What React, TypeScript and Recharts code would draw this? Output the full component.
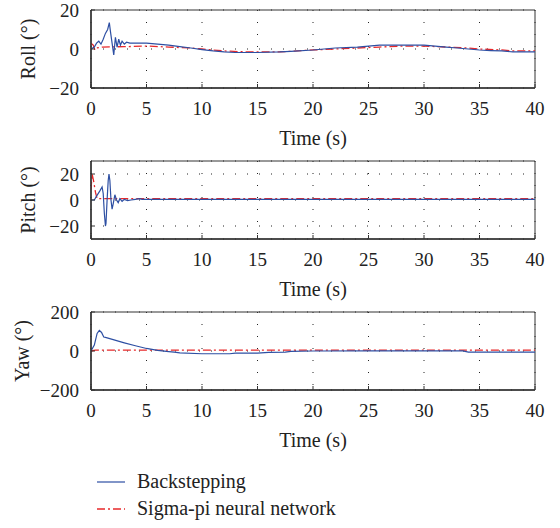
import { LineChart, Line, XAxis, YAxis, CartesianGrid, ReferenceArea } from 'recharts'

const FONT = "'Liberation Serif', 'Times New Roman', serif"
const BLUE = '#2d4fa3'
const RED = '#e8282a'
const INK = '#222'

const timeTicks = [0, 5, 10, 15, 20, 25, 30, 35, 40]

// Roll (deg)
const rollBackT = [0, 0.3, 0.5, 0.7, 0.9, 1.1, 1.3, 1.5, 1.65, 1.75, 1.9, 2.05, 2.2, 2.35, 2.5, 2.65, 2.8, 3.0, 3.2, 3.5, 4, 5, 6, 7, 8, 9, 10, 11, 12, 13, 15, 17, 18, 20, 22, 24, 25, 26, 28, 30, 31, 32, 33, 35, 36, 37, 38, 40]
const rollBackV = [0, 1, 3, 4, 2.5, 5, 8, 10, 13.5, 9, 3, -3, 6, 1, 5, 2, 4, 2.5, 3.5, 3, 3, 3, 2.5, 2, 1.2, 0.5, -0.3, -1, -1.5, -1.8, -1.8, -1.5, -1.2, -0.5, 0.5, 1, 1.5, 2, 2, 2, 1.5, 1, 0.5, -0.5, -0.8, -1, -1.5, -1.5]
const rollSigmaT = [0, 0.2, 0.35, 0.5, 1, 3, 5, 7, 9, 10, 12, 14, 17, 20, 22, 24, 26, 28, 30, 32, 34, 35, 37, 38, 40]
const rollSigmaV = [3, 2, -0.5, 0.5, 1, 1.2, 1.5, 1, 0.5, 0, -1, -1.5, -1.5, -0.5, 0, 0.5, 1, 1.5, 1.5, 1, 0.5, 0, -0.5, -1, -1]

// Pitch (deg)
const pitchBackT = [0, 0.3, 0.5, 0.8, 1.0, 1.1, 1.2, 1.3, 1.35, 1.45, 1.55, 1.62, 1.7, 1.8, 1.9, 2.0, 2.15, 2.3, 2.45, 2.6, 2.8, 3.0, 3.3, 3.6, 4, 4.4, 4.6, 5, 40]
const pitchBackV = [0, 0, 3, 7, 10, 5, -10, -20, -18, 0, 15, 20, 15, 0, -7, -3, 4, 0, -2, 1, -1, 0.5, -0.5, 0, 0.5, 1, 0.5, 0.5, 0.5]
const pitchSigmaT = [0, 0.1, 0.25, 0.4, 0.55, 40]
const pitchSigmaV = [8, 20, 14, 6, 1, 1]

// Yaw (deg)
const yawBackT = [0, 0.3, 0.55, 0.75, 0.95, 1.15, 1.3, 2, 3, 4, 5, 6, 7, 7.5, 8, 10, 12.5, 13, 15, 16, 17.5, 18, 20, 25, 30, 33.5, 34, 40]
const yawBackV = [0, 30, 90, 106, 95, 72, 70, 58, 42, 27, 13, 3, -3, -6, -10, -14, -14, -11, -11, -7, -6, -2, 0, 1, 1, 1, -6, -6]
const yawSigmaT = [0, 0.4, 20, 40]
const yawSigmaV = [0, 5, 5, 5]

const series = (t: number[], v: number[]) => t.map((x, i) => ({ t: x, v: v[i] }))

const fmt = (n: number) => (n < 0 ? `\u2212${Math.abs(n)}` : `${n}`)

const txt = (size: number) => ({ fontFamily: FONT, fontSize: size })

const XTick = ({ x, y, payload }: any) => (
  <text x={x} y={y + 27} textAnchor="middle" style={txt(19)} fill={INK}>
    {payload.value}
  </text>
)

const YTick = ({ x, y, payload }: any) => (
  <text x={x - 12} y={y + 6.5} textAnchor="end" style={txt(19)} fill={INK}>
    {fmt(payload.value)}
  </text>
)

interface PanelProps {
  back: { t: number; v: number }[]
  sigma: { t: number; v: number }[]
  domain: [number, number]
  yTicks: number[]
  label: string
  labelX: number
}

function Panel({ back, sigma, domain, yTicks, label, labelX }: PanelProps) {
  return (
    <LineChart width={560} height={151} margin={{ top: 10, right: 25, left: 0, bottom: 0 }}>
      <CartesianGrid stroke={INK} strokeDasharray="1 11" />
      <ReferenceArea x1={0} x2={40} y1={domain[0]} y2={domain[1]} fill="none" fillOpacity={0} stroke="#333" strokeWidth={1} />
      <XAxis
        type="number"
        dataKey="t"
        domain={[0, 40]}
        ticks={timeTicks}
        height={63}
        allowDataOverflow
        tickSize={-4}
        tickMargin={4}
        axisLine={{ stroke: '#333', strokeWidth: 1.5 }}
        tickLine={{ stroke: '#333' }}
        tick={<XTick />}
        label={{
          content: ({ viewBox }: any) => (
            <text x={viewBox.x + viewBox.width / 2} y={viewBox.y + 57} textAnchor="middle" style={txt(20)} fill={INK}>
              Time (s)
            </text>
          ),
        }}
      />
      <YAxis
        type="number"
        domain={domain}
        ticks={yTicks}
        width={91}
        allowDataOverflow
        tickSize={-4}
        tickMargin={4}
        axisLine={{ stroke: '#333', strokeWidth: 1.5 }}
        tickLine={{ stroke: '#333' }}
        tick={<YTick />}
        label={{
          content: ({ viewBox }: any) => {
            const cy = viewBox.y + viewBox.height / 2
            return (
              <text x={labelX} y={cy} transform={`rotate(-90, ${labelX}, ${cy})`} textAnchor="middle" style={txt(20)} fill={INK}>
                {label}
              </text>
            )
          },
        }}
      />
      <Line data={sigma} dataKey="v" type="linear" stroke={RED} strokeWidth={1.3} strokeDasharray="8 3 2 3" dot={false} isAnimationActive={false} />
      <Line data={back} dataKey="v" type="linear" stroke={BLUE} strokeWidth={1.2} dot={false} isAnimationActive={false} />
    </LineChart>
  )
}

export default function App() {
  return (
    <div style={{ position: 'absolute', left: 0, top: 0, width: 560, height: 528, background: '#fff' }}>
      <Panel back={series(rollBackT, rollBackV)} sigma={series(rollSigmaT, rollSigmaV)} domain={[-20, 20]} yTicks={[-20, 0, 20]} label="Roll (°)" labelX={35} />
      <Panel back={series(pitchBackT, pitchBackV)} sigma={series(pitchSigmaT, pitchSigmaV)} domain={[-30, 30]} yTicks={[-20, 0, 20]} label="Pitch (°)" labelX={35} />
      <Panel back={series(yawBackT, yawBackV)} sigma={series(yawSigmaT, yawSigmaV)} domain={[-200, 200]} yTicks={[-200, 0, 200]} label="Yaw (°)" labelX={29} />
      <svg width={560} height={75} style={{ display: 'block' }}>
        <line x1={97} x2={125} y1={29} y2={29} stroke={BLUE} strokeWidth={1.2} />
        <text x={137} y={35} style={txt(20)} fill={INK}>Backstepping</text>
        <line x1={97} x2={125} y1={56} y2={56} stroke={RED} strokeWidth={1.3} strokeDasharray="8 3 2 3" />
        <text x={137} y={62} style={txt(20)} fill={INK}>Sigma-pi neural network</text>
      </svg>
    </div>
  )
}
